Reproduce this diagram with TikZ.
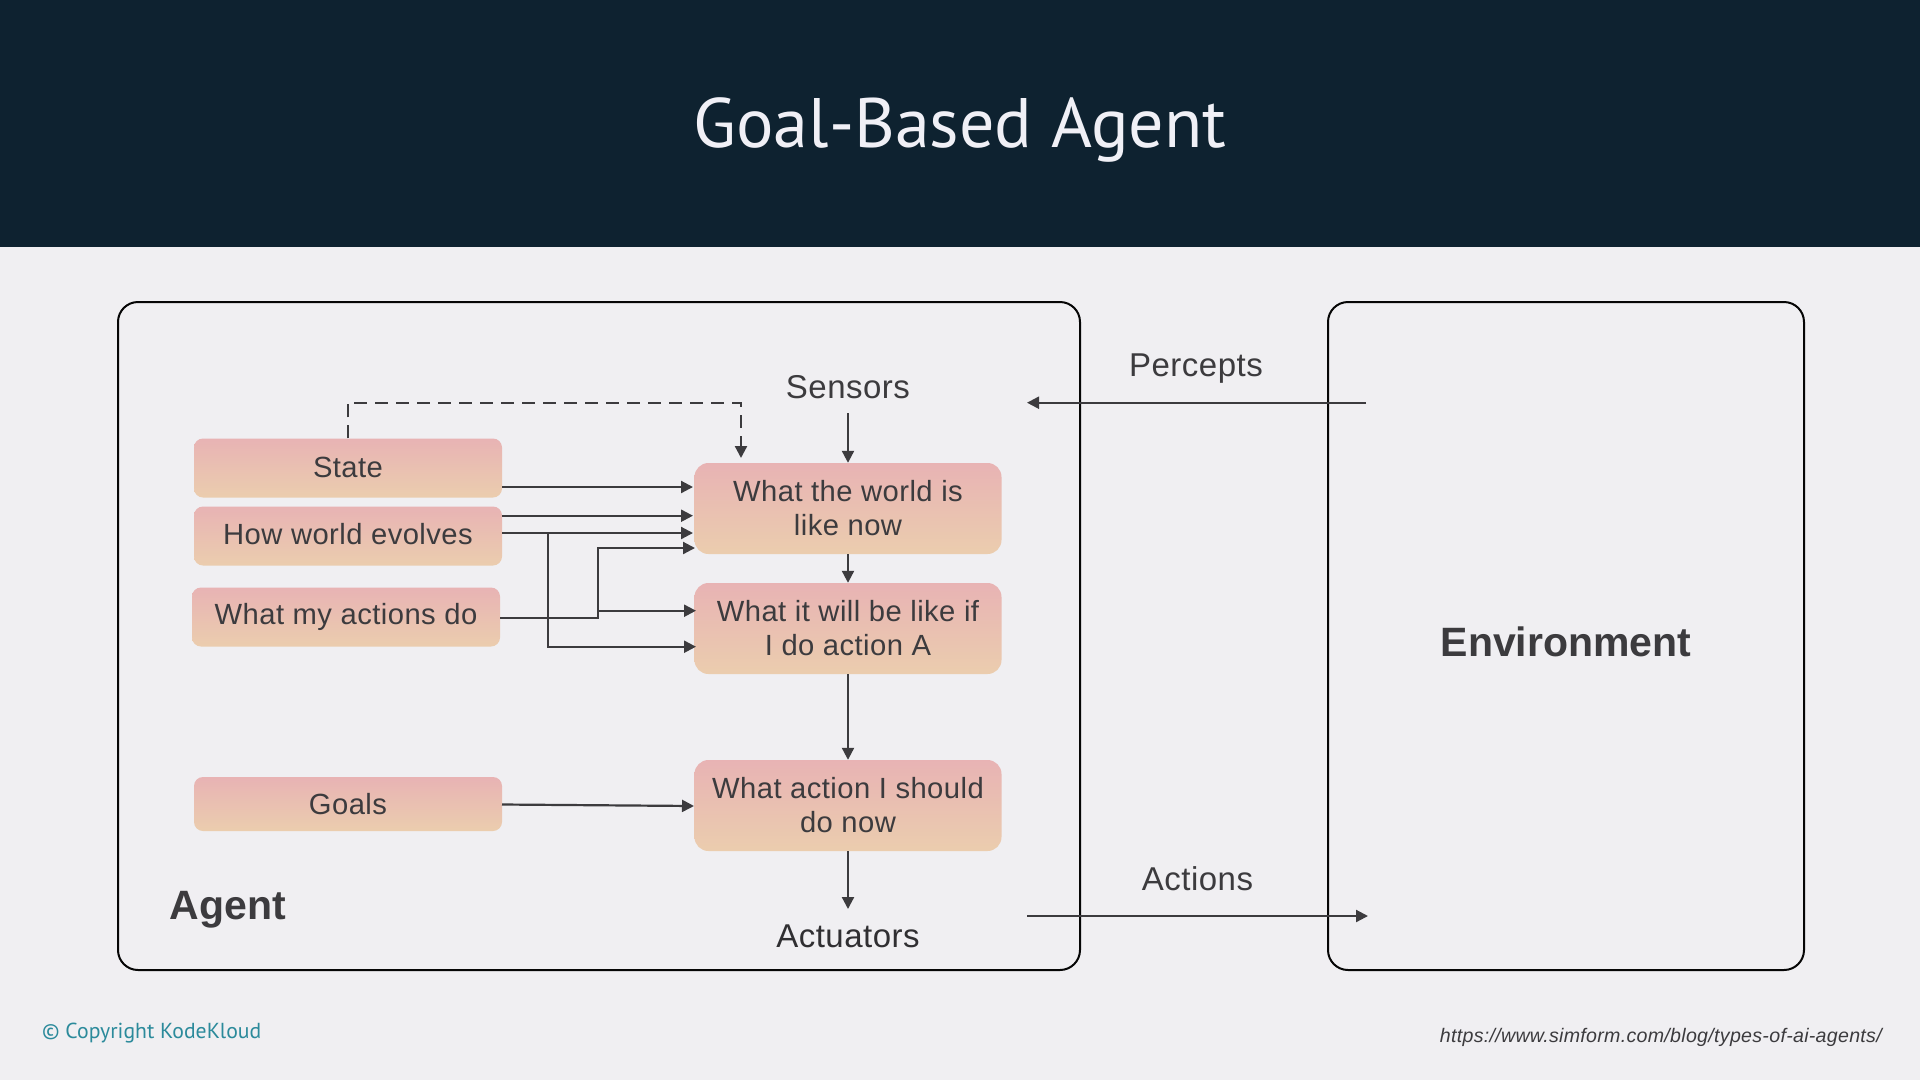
\documentclass[tikz,border=0pt]{standalone}
\usepackage{fontspec}
\setmainfont{Liberation Sans}
\newfontfamily\titlefont{PT Sans}
\newfontfamily\bodyfont[LetterSpace=1.5]{Liberation Sans}
\newfontfamily\heavyfont{Liberation Sans}
\newfontfamily\urlfont[LetterSpace=1.5]{Liberation Sans}
\usetikzlibrary{arrows.meta}
\definecolor{pagebg}{HTML}{F0EFF2}
\definecolor{headbg}{HTML}{0E2230}
\definecolor{ink}{HTML}{3C3B3E}
\definecolor{boxtop}{HTML}{E8B3B4}
\definecolor{boxbot}{HTML}{EBCDAE}
\definecolor{teal}{HTML}{2B8A9B}
\tikzset{
  x=1pt,y=-1pt,
  inputbox/.style={rounded corners=9pt,top color=boxtop,bottom color=boxbot,draw=none,text=ink,align=center,inner sep=0pt,font=\bodyfont\fontsize{29.200}{34}\selectfont},
  modelbox/.style={inputbox,rounded corners=14pt,minimum width=307pt},
  frame/.style={draw=black!90!ink,line width=2pt,rounded corners=20pt,fill=none,inner sep=0pt},
  conn/.style={draw=ink,line width=2.200pt,-{Triangle[length=12pt,width=12pt]}},
  label/.style={text=ink,font=\bodyfont\fontsize{33}{37}\selectfont,inner sep=0pt},
  heavy/.style={text=ink,font=\heavyfont\bfseries\fontsize{41}{48}\selectfont,inner sep=0pt},
}
\begin{document}
\begin{tikzpicture}
\useasboundingbox (0,0) rectangle (1920,1080);
\fill[pagebg] (0,0) rectangle (1920,1080);
\fill[headbg] (0,0) rectangle (1920,247);
\node[text={rgb,255:red,240;green,240;blue,246},font=\titlefont\fontsize{70}{80}\selectfont,inner sep=0pt] (title) at (960,130) {Goal-Based Agent};

\node[frame,minimum width=962pt,minimum height=668pt] (agent) at (599,636) {};
\node[frame,minimum width=476pt,minimum height=668pt] (env) at (1566,636) {};
\node[heavy] (envtext) at (1566,642) {Environment};
\node[heavy] (agenttext) at (228,910) {Agent};

\node[inputbox,minimum width=308pt,minimum height=59pt,text depth=2pt] (state) at (348,468) {State};
\node[inputbox,minimum width=308pt,minimum height=59pt,text depth=4pt] (evolves) at (348,536) {How world evolves};
\node[inputbox,minimum width=308pt,minimum height=59pt] (actions) at (346,617) {What my actions do};
\node[inputbox,minimum width=308pt,minimum height=54pt] (goals) at (348,804) {Goals};

\node[modelbox,minimum height=91pt] (now) at (848,508.500) {What the world is\\like now};
\node[modelbox,minimum height=91pt] (will) at (848,628.500) {What it will be like if\\I do action A};
\node[modelbox,minimum height=91pt] (should) at (848,805.500) {What action I should\\do now};

\node[label] (sensors) at (848,387) {Sensors};
\node[label,text=ink!80!black] (actuators) at (848,936) {Actuators};
\node[label] (percepts) at (1196,369) {Percepts};
\node[label] (actlabel) at (1197.500,879) {Actions};

\node[text=teal,font=\titlefont\fontsize{21.700}{24}\selectfont,inner sep=0pt,anchor=west] (copy) at (42,1033) {© Copyright KodeKloud};
\node[text=ink,font=\urlfont\itshape\fontsize{19.600}{22}\selectfont,inner sep=0pt,anchor=east] (url) at (1882,1037) {https://www.simform.com/blog/types-of-ai-agents/};

% ports
\coordinate (sensorsout) at (848,413);
\coordinate (percin) at (1366,402.700);
\coordinate (percout) at (1027,402.700);
\coordinate (actin) at (1027,916);
\coordinate (actout) at (1368,916);
\coordinate (actuin) at (848,909);
\coordinate (stateout) at (502,487);
\coordinate (nowa) at (693,487);
\coordinate (evoa) at (502,515.700);
\coordinate (nowb) at (693,515.700);
\coordinate (evob) at (502,533);
\coordinate (nowc) at (693,533);
\coordinate (nowd) at (695,548);
\coordinate (actout1) at (500,617.700);
\coordinate (jx) at (598,617.700);
\coordinate (jy) at (598,548);
\coordinate (jz) at (598,610.700);
\coordinate (willa) at (696,610.700);
\coordinate (ex) at (548,533);
\coordinate (ey) at (548,646.700);
\coordinate (willb) at (696,646.700);
\coordinate (goalout) at (502,804.500);
\coordinate (shoulda) at (694,806);
\coordinate (dashin) at (348,402.700);
\coordinate (dashcorner) at (741,402.700);
\coordinate (dashend) at (741,458);

\draw[conn] (percin) -- (percout);
\draw[conn] (actin) -- (actout);
\draw[conn] (sensorsout) -- (now.north);
\draw[conn] (now.south) -- (will.north);
\draw[conn] (will.south) -- (should.north);
\draw[conn] (should.south) -- (actuin);
\draw[conn] (stateout) -- (nowa);
\draw[conn] (evoa) -- (nowb);
\draw[conn] (evob) -- (nowc);
\draw[conn] (actout1) -- (jx) -- (jy) -- (nowd);
\draw[conn] (jz) -- (willa);
\draw[conn] (ex) -- (ey) -- (willb);
\draw[conn] (goalout) -- (shoulda);
\draw[conn,dash pattern=on 13pt off 8pt] (state.north) -- (dashin) -- (dashcorner) -- (dashend);
\end{tikzpicture}
\end{document}
